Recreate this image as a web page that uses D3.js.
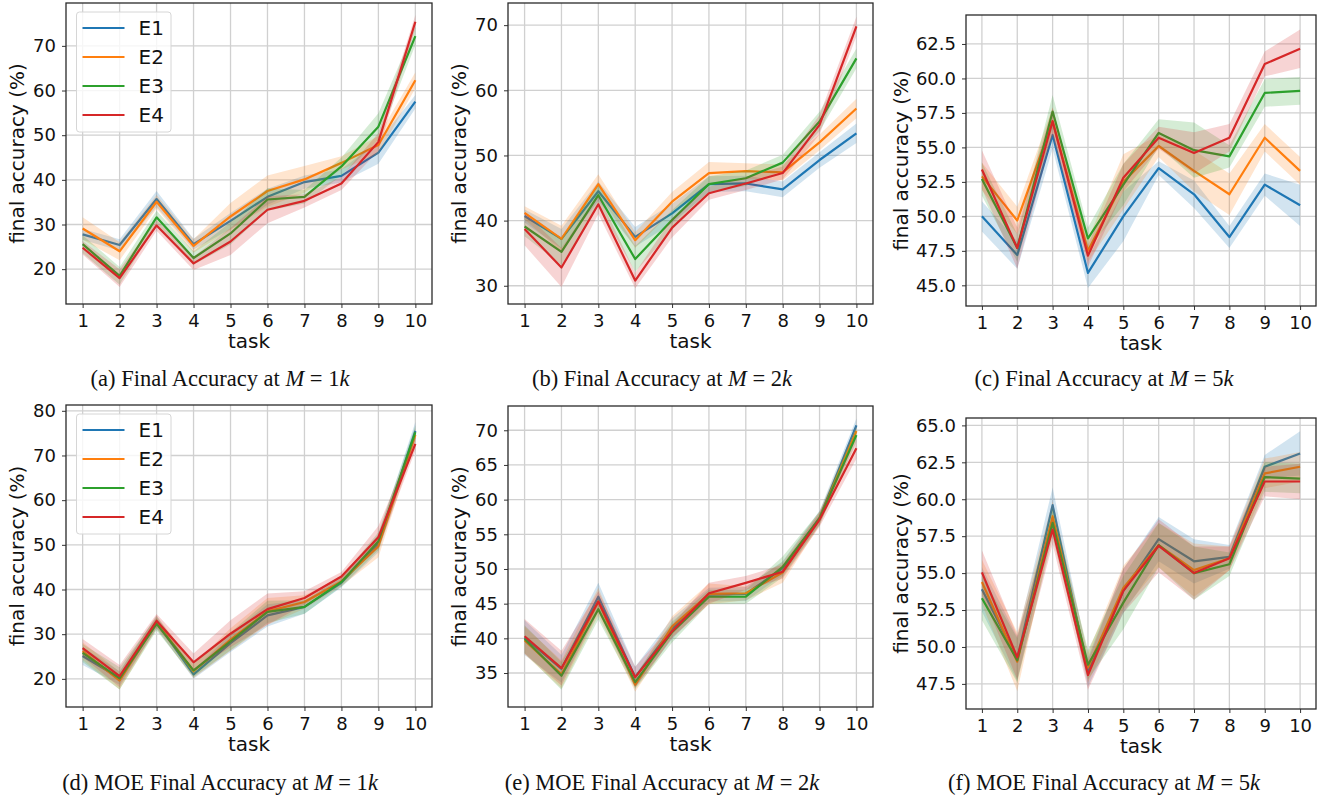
<!DOCTYPE html>
<html>
<head>
<meta charset="utf-8">
<script src="https://cdn.jsdelivr.net/npm/d3@7"></script>
<style>
  html, body { margin: 0; padding: 0; background: #fff; }
  svg { display: block; }
</style>
</head>
<body>
<svg id="chart" width="1325" height="801"></svg>
<script>
// ---------------- DATA ----------------
const tasks = [1, 2, 3, 4, 5, 6, 7, 8, 9, 10];
const seriesNames = ["E1", "E2", "E3", "E4"];
const seriesColors = ["#1f77b4", "#ff7f0e", "#2ca02c", "#d62728"];

// (a) Final Accuracy at M = 1k
const meanA = [
  [27.8, 25.4, 35.7, 25.6, 30.8, 36.2, 39.5, 40.9, 46.1, 57.5],
  [29.1, 24.0, 35.1, 25.2, 31.8, 37.5, 40.1, 43.8, 47.8, 62.3],
  [25.6, 18.5, 31.6, 22.5, 28.0, 35.6, 36.2, 43.0, 51.9, 72.2],
  [24.8, 18.0, 29.8, 21.3, 26.2, 33.3, 35.3, 39.2, 48.5, 75.4]
];
const sdA = [
  [1.2, 1.3, 1.8, 1.2, 1.8, 1.8, 1.5, 1.5, 2.5, 1.5],
  [2.5, 2.0, 1.5, 1.5, 3.0, 3.5, 3.0, 1.5, 2.0, 1.8],
  [2.0, 2.0, 1.5, 1.5, 2.5, 2.5, 1.5, 2.0, 3.0, 2.0],
  [1.5, 2.0, 1.2, 1.5, 3.0, 3.0, 1.5, 1.5, 2.0, 1.5]
];
const yTicksA = [20, 30, 40, 50, 60, 70];

// (b) Final Accuracy at M = 2k
const meanB = [
  [40.7, 37.2, 44.5, 37.5, 41.1, 45.6, 45.7, 44.8, 49.3, 53.4],
  [41.2, 37.2, 45.6, 37.0, 42.9, 47.3, 47.6, 47.4, 52.0, 57.2],
  [39.1, 35.2, 43.9, 34.1, 40.1, 45.6, 46.5, 48.9, 55.2, 64.9],
  [38.7, 32.8, 42.5, 30.8, 38.9, 44.2, 45.7, 47.3, 54.7, 69.8]
];
const sdB = [
  [1.0, 1.5, 1.5, 1.5, 1.5, 1.2, 1.2, 1.2, 1.2, 1.5],
  [1.0, 2.0, 1.5, 1.2, 1.5, 1.7, 1.2, 1.2, 1.2, 1.5],
  [1.5, 2.0, 1.5, 2.0, 1.5, 1.2, 1.2, 1.2, 1.5, 1.5],
  [2.5, 3.0, 1.5, 1.2, 1.5, 1.0, 1.0, 1.0, 1.5, 1.5]
];
const yTicksB = [30, 40, 50, 60, 70];

// (c) Final Accuracy at M = 5k
const meanC = [
  [50.0, 47.2, 55.9, 45.9, 50.0, 53.5, 51.6, 48.5, 52.3, 50.8],
  [52.9, 49.7, 56.9, 47.5, 52.5, 55.1, 53.3, 51.6, 55.7, 53.3],
  [52.7, 47.7, 57.6, 48.4, 52.3, 56.05, 54.8, 54.35, 58.95, 59.1],
  [53.4, 47.7, 56.9, 47.15, 52.8, 55.7, 54.6, 55.7, 61.05, 62.15]
];
const sdC = [
  [1.1, 1.0, 1.0, 1.1, 1.8, 0.5, 1.0, 0.8, 0.8, 1.5],
  [1.0, 1.0, 1.0, 0.8, 2.0, 0.8, 1.5, 1.5, 1.0, 1.0],
  [1.2, 1.0, 1.2, 0.8, 1.5, 1.0, 2.0, 0.8, 1.0, 1.0],
  [1.4, 1.5, 1.0, 0.8, 1.0, 0.8, 1.5, 1.0, 0.9, 1.4]
];
const yTicksC = [45.0, 47.5, 50.0, 52.5, 55.0, 57.5, 60.0, 62.5];

// (d) MOE Final Accuracy at M = 1k
const meanD = [
  [25.1, 20.2, 32.7, 21.0, 28.0, 34.2, 36.1, 41.5, 50.3, 75.5],
  [26.2, 19.6, 32.7, 21.7, 28.8, 35.1, 37.2, 41.8, 49.7, 74.6],
  [25.8, 20.1, 32.3, 21.9, 28.4, 35.0, 36.1, 41.7, 50.8, 75.2],
  [26.9, 20.6, 33.0, 23.7, 30.1, 35.6, 38.1, 42.9, 51.7, 72.6]
];
const sdD = [
  [2.0, 1.5, 1.5, 1.0, 2.0, 2.5, 1.5, 1.0, 2.0, 2.0],
  [2.0, 2.0, 1.5, 1.5, 2.5, 3.0, 1.5, 1.0, 2.5, 1.5],
  [2.0, 2.5, 1.5, 1.5, 2.0, 2.5, 1.5, 1.0, 2.0, 1.5],
  [2.0, 2.5, 1.5, 2.0, 3.0, 3.5, 1.5, 1.0, 2.5, 1.5]
];
const yTicksD = [20, 30, 40, 50, 60, 70, 80];

// (e) MOE Final Accuracy at M = 2k
const meanE = [
  [40.1, 35.6, 46.0, 34.4, 41.4, 46.3, 46.4, 50.1, 57.4, 70.7],
  [39.7, 34.8, 45.3, 33.3, 41.7, 46.4, 46.5, 49.5, 57.3, 69.9],
  [39.9, 34.6, 44.2, 33.7, 40.9, 46.0, 46.0, 50.3, 57.3, 69.3],
  [40.3, 35.7, 45.3, 34.4, 41.0, 46.5, 48.0, 49.6, 57.1, 67.4]
];
const sdE = [
  [2.5, 2.0, 2.0, 1.5, 1.5, 1.0, 1.0, 1.0, 1.0, 1.0],
  [2.0, 2.0, 2.0, 1.0, 1.5, 1.5, 1.0, 1.5, 1.0, 1.0],
  [2.0, 2.0, 1.5, 1.0, 1.5, 1.0, 1.0, 1.5, 1.0, 1.0],
  [2.5, 2.5, 1.5, 1.5, 1.0, 1.5, 1.0, 1.0, 1.0, 1.5]
];
const yTicksE = [35, 40, 45, 50, 55, 60, 65, 70];

// (f) MOE Final Accuracy at M = 5k
const meanF = [
  [53.9, 49.2, 59.6, 48.3, 53.8, 57.3, 55.8, 56.1, 62.2, 63.1],
  [54.4, 49.0, 58.85, 48.6, 54.0, 56.9, 55.2, 56.0, 61.75, 62.2],
  [53.3, 49.1, 58.4, 48.8, 53.0, 56.9, 55.0, 55.6, 61.5, 61.4],
  [55.05, 49.3, 57.95, 48.1, 53.8, 56.85, 55.0, 56.0, 61.2, 61.2]
];
const sdF = [
  [1.5, 1.5, 1.2, 1.0, 1.5, 1.5, 1.5, 0.8, 0.8, 1.5],
  [1.5, 2.0, 1.0, 1.0, 1.5, 1.5, 1.8, 0.8, 1.0, 1.0],
  [1.5, 1.5, 1.0, 1.0, 1.8, 1.5, 1.8, 0.8, 1.0, 1.0],
  [1.5, 1.5, 1.0, 1.0, 1.5, 1.8, 1.8, 0.8, 1.0, 1.2]
];
const yTicksF = [47.5, 50.0, 52.5, 55.0, 57.5, 60.0, 62.5, 65.0];

const captionPrefixes = [
  "(a) Final Accuracy at ", "(b) Final Accuracy at ", "(c) Final Accuracy at ",
  "(d) MOE Final Accuracy at ", "(e) MOE Final Accuracy at ", "(f) MOE Final Accuracy at "
];
const captionM = ["1", "2", "5", "1", "2", "5"];
const xLabel = "task";
const yLabel = "final accuracy (%)";

// ---------------- LAYOUT ----------------
const panels = [
  { mean: meanA, sd: sdA, ticks: yTicksA, fmt: "d",   dom: [12.2, 79.6], box: [66, 3, 432, 304],   legend: true,  capX: 220,  capY: 386 },
  { mean: meanB, sd: sdB, ticks: yTicksB, fmt: "d",   dom: [27.2, 73.4], box: [508, 3, 873, 304],  legend: false, capX: 662,  capY: 386 },
  { mean: meanC, sd: sdC, ticks: yTicksC, fmt: ".1f", dom: [43.5, 64.6], box: [966, 15, 1316, 306], legend: false, capX: 1104, capY: 386 },
  { mean: meanD, sd: sdD, ticks: yTicksD, fmt: "d",   dom: [13.7, 81.3], box: [66, 405, 432, 707], legend: true,  capX: 220,  capY: 790 },
  { mean: meanE, sd: sdE, ticks: yTicksE, fmt: "d",   dom: [30.1, 73.5], box: [508, 406, 873, 707], legend: false, capX: 662,  capY: 790 },
  { mean: meanF, sd: sdF, ticks: yTicksF, fmt: ".1f", dom: [45.8, 65.5], box: [966, 418, 1316, 709], legend: false, capX: 1104, capY: 790 }
];

const svg = d3.select("#chart");
const sans = "'DejaVu Sans', sans-serif";
const serif = "'Liberation Serif', 'Times New Roman', serif";

panels.forEach((p, pi) => {
  const [x0, y0, x1, y1] = p.box;
  const x = d3.scaleLinear().domain([0.55, 10.45]).range([x0, x1]);
  const y = d3.scaleLinear().domain(p.dom).range([y1, y0]);
  const g = svg.append("g");

  const clipId = "clip" + pi;
  g.append("clipPath").attr("id", clipId)
    .append("rect").attr("x", x0).attr("y", y0).attr("width", x1 - x0).attr("height", y1 - y0);

  // grid
  const grid = g.append("g");
  grid.selectAll("line.v").data(tasks).join("line")
    .attr("x1", d => x(d)).attr("x2", d => x(d)).attr("y1", y0).attr("y2", y1)
    .attr("stroke", "#d0d0d0").attr("stroke-width", 1.3);
  grid.selectAll("line.h").data(p.ticks).join("line")
    .attr("x1", x0).attr("x2", x1).attr("y1", d => y(d)).attr("y2", d => y(d))
    .attr("stroke", "#d0d0d0").attr("stroke-width", 1.3);

  // series
  const plot = g.append("g").attr("clip-path", `url(#${clipId})`);
  p.mean.forEach((m, si) => {
    const pts = tasks.map((t, i) => ({ t, v: m[i], s: p.sd[si][i] }));
    const line = d3.line().x(d => x(d.t)).y(d => y(d.v));
    const area = d3.area().x(d => x(d.t)).y0(d => y(d.v - d.s)).y1(d => y(d.v + d.s));
    plot.append("path").datum(pts).attr("d", line)
      .attr("fill", "none").attr("stroke", seriesColors[si]).attr("stroke-width", 2.2)
      .attr("stroke-linejoin", "round");
    plot.append("path").datum(pts).attr("d", area)
      .attr("fill", seriesColors[si]).attr("fill-opacity", 0.2).attr("stroke", "none");
  });

  // axes
  const fmt = d3.format(p.fmt);
  const xAxis = g.append("g").attr("transform", `translate(0,${y1})`)
    .call(d3.axisBottom(x).tickValues(tasks).tickSize(4).tickPadding(5).tickFormat(d3.format("d")));
  const yAxis = g.append("g").attr("transform", `translate(${x0},0)`)
    .call(d3.axisLeft(y).tickValues(p.ticks).tickSize(4).tickPadding(6).tickFormat(fmt));
  [xAxis, yAxis].forEach(ax => {
    ax.select(".domain").remove();
    ax.selectAll(".tick line").attr("stroke", "#333").attr("stroke-width", 1);
    ax.selectAll(".tick text").attr("fill", "#111").style("font-family", sans).style("font-size", "18px");
  });
  xAxis.selectAll(".tick text").attr("dy", "0.75em");

  // frame
  g.append("rect").attr("x", x0).attr("y", y0).attr("width", x1 - x0).attr("height", y1 - y0)
    .attr("fill", "none").attr("stroke", "#2a2a2a").attr("stroke-width", 1.3);

  // axis labels
  g.append("text").attr("x", (x0 + x1) / 2).attr("y", y1 + 44)
    .attr("text-anchor", "middle").style("font-family", sans).style("font-size", "20px").attr("fill", "#111")
    .text(xLabel);
  const ylx = p.fmt === "d" ? x0 - 49 : x0 - 65;
  g.append("text").attr("transform", `translate(${ylx},${(y0 + y1) / 2}) rotate(-90)`)
    .attr("text-anchor", "middle").attr("dy", "0.35em")
    .style("font-family", sans).style("font-size", "20px").attr("fill", "#111")
    .text(yLabel);

  // legend
  if (p.legend) {
    const lg = g.append("g").attr("transform", `translate(${x0 + 10.5},${y0 + 9})`);
    lg.append("rect").attr("width", 94.5).attr("height", 120).attr("rx", 3)
      .attr("fill", "#fff").attr("fill-opacity", 0.8).attr("stroke", "#d6d6d6").attr("stroke-width", 1);
    seriesNames.forEach((n, i) => {
      const cy = 16 + i * 29;
      lg.append("line").attr("x1", 6).attr("x2", 48).attr("y1", cy).attr("y2", cy)
        .attr("stroke", seriesColors[i]).attr("stroke-width", 2.2);
      lg.append("text").attr("x", 62).attr("y", cy).attr("dy", "0.36em")
        .style("font-family", sans).style("font-size", "20px").attr("fill", "#111").text(n);
    });
  }

  // caption
  const cap = svg.append("text").attr("x", p.capX).attr("y", p.capY).attr("text-anchor", "middle")
    .style("font-family", serif).style("font-size", "22.5px").attr("fill", "#111");
  cap.append("tspan").text(captionPrefixes[pi]);
  cap.append("tspan").style("font-style", "italic").text("M");
  cap.append("tspan").text("\u2005=\u2005" + captionM[pi]);
  cap.append("tspan").style("font-style", "italic").text("k");
});
</script>
</body>
</html>
